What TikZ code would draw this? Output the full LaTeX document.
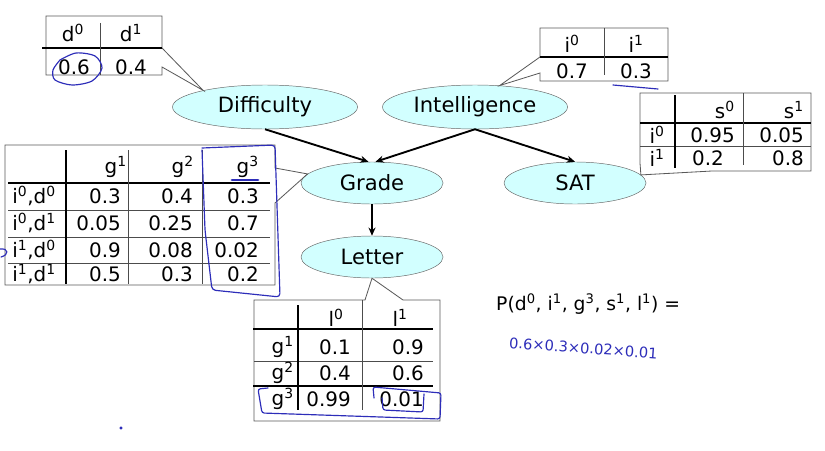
\documentclass[tikz,border=0pt]{standalone}
\usepackage{fontspec}
\setmainfont{DejaVu Sans}
\usetikzlibrary{arrows.meta, shapes.geometric}

\definecolor{nodefill}{RGB}{210,255,255}
\definecolor{ink}{RGB}{45,45,185}
\newcommand{\sv}[2]{#1\textsuperscript{#2}}

\begin{document}
\begin{tikzpicture}[>={Stealth[length=7pt,width=6pt]}, x=0.03cm, y=-0.03cm,
		var/.style={draw=gray!80!black, fill=nodefill, ellipse, inner sep=0pt, minimum width=4.26cm, minimum height=1.26cm, font=\fontsize{18}{21}\selectfont},
		edge/.style={->, line width=1.6pt},
		cell/.style={draw=black!65, line width=0.7pt},
		rule/.style={black!70, line width=0.8pt},
		thickrule/.style={black, line width=2.2pt},
		txt/.style={inner sep=0pt, font=\fontsize{17}{20}\selectfont},
		ink/.style={draw=ink, line width=1pt, line cap=round, line join=round}]
		\useasboundingbox (0,0) rectangle (825,450);

		% network
		\node[var, minimum width=5.55cm, minimum height=1.32cm] (diff) at (265,107) {Difficulty};
		\node[var, minimum width=5.55cm, minimum height=1.32cm] (intel) at (475,107) {Intelligence};
		\node[var] (grade) at (372,183) {Grade};
		\node[var] (sat) at (575,183) {SAT};
		\node[var] (letter) at (372,257) {Letter};
		\draw[edge] (diff.south) -- ([xshift=-3pt]grade.north);
		\draw[edge] (intel.south) -- ([xshift=3pt]grade.north);
		\draw[edge] (intel.south) -- (sat.north);
		\draw[edge] (grade) -- (letter);

		% difficulty table
		\draw[cell] (162,48) -- (diff.165) -- (162,67) -- (162,75) -- (46,75) -- (46,16) -- (162,16) -- cycle;
		\draw[thickrule] (42,48) -- (162,48);
		\draw[rule] (100,23) -- (100,75);
		\node[txt] (d0) at (73,33) {\sv{d}{0}};
		\node[txt] (d1) at (131,33) {\sv{d}{1}};
		\node[txt] (pd0) at (74,67) {0.6};
		\node[txt] (pd1) at (131,67) {0.4};

		% intelligence table
		\draw[cell] (540,57) -- (intel.41) -- (540,73) -- (540,81) -- (668,81) -- (668,28) -- (540,28) -- cycle;
		\draw[thickrule] (540,57) -- (668,57);
		\draw[rule] (604,28) -- (604,75);
		\node[txt] (i0) at (572,44) {\sv{i}{0}};
		\node[txt] (i1) at (636,44) {\sv{i}{1}};
		\node[txt] (pi0) at (572,71) {0.7};
		\node[txt] (pi1) at (636,71) {0.3};

		% sat table
		\draw[cell] (640,163) -- (sat.7) -- (712,171) -- (811,171) -- (811,93) -- (640,93) -- cycle;
		\draw[thickrule] (640,123) -- (811,123);
		\draw[rule] (640,146) -- (811,146);
		\draw[thickrule] (675,95) -- (675,168);
		\draw[rule] (743,93) -- (743,165);
		\node[txt, anchor=east] (s0) at (735,110) {\sv{s}{0}};
		\node[txt, anchor=east] (s1) at (804,110) {\sv{s}{1}};
		\node[txt] (si0) at (657,135) {\sv{i}{0}};
		\node[txt] (si1) at (657,158) {\sv{i}{1}};
		\node[txt, anchor=east] (ps00) at (735,135) {0.95};
		\node[txt, anchor=east] (ps01) at (804,135) {0.05};
		\node[txt, anchor=east] (ps10) at (724,158) {0.2};
		\node[txt, anchor=east] (ps11) at (804,158) {0.8};

		% grade table
		\draw[cell] (275,168) -- (grade.172) -- (275,203) -- (275,285) -- (5,285) -- (5,145) -- (275,145) -- cycle;
		\draw[thickrule] (8,183) -- (270,183);
		\foreach \y in {210,237,263}
			\draw[rule] (8,\y) -- (270,\y);
		\draw[thickrule] (66,150) -- (66,284);
		\draw[rule] (128,150) -- (128,284);
		\draw[rule] (202,150) -- (202,284);
		\node[txt, anchor=east] (g1) at (127,167) {\sv{g}{1}};
		\node[txt, anchor=east] (g2) at (194,167) {\sv{g}{2}};
		\node[txt, anchor=east] (g3) at (259,167) {\sv{g}{3}};
		\foreach \y/\lab/\pa/\pb/\pc [count=\r] in {
				196/{\sv{i}{0},\sv{d}{0}}/0.3/0.4/0.3,
				223/{\sv{i}{0},\sv{d}{1}}/0.05/0.25/0.7,
				250/{\sv{i}{1},\sv{d}{0}}/0.9/0.08/0.02,
				274/{\sv{i}{1},\sv{d}{1}}/0.5/0.3/0.2} {
			\node[txt] (gl\r) at (34,\y) {\lab};
			\node[txt, anchor=east] (ga\r) at (121,\y) {\pa};
			\node[txt, anchor=east] (gb\r) at (193,\y) {\pb};
			\node[txt, anchor=east] (gc\r) at (259,\y) {\pc};
		}

		% letter table
		\draw[cell] (365,300) -- (letter.south) -- (403,300) -- (440,300) -- (440,421) -- (254,421) -- (254,300) -- cycle;
		\draw[thickrule] (253,329) -- (433,329);
		\draw[rule] (254,361) -- (433,361);
		\draw[thickrule] (253,386) -- (433,386);
		\draw[thickrule] (298,305) -- (298,410);
		\draw[rule] (362,300) -- (362,410);
		\node[txt] (l0) at (336,318) {\sv{l}{0}};
		\node[txt] (l1) at (400,318) {\sv{l}{1}};
		\foreach \y/\g/\pa/\pb [count=\r] in {347/1/0.1/0.9, 373/2/0.4/0.6, 399/3/0.99/0.01} {
			\node[txt, anchor=east] (lg\r) at (294,\y) {\sv{g}{\g}};
			\node[txt, anchor=east] (la\r) at (351,\y) {\pa};
			\node[txt, anchor=east] (lb\r) at (424,\y) {\pb};
		}

		% joint probability
		\node[txt, anchor=west, font=\fontsize{16}{19}\selectfont] (joint) at (496,304) {P(\sv{d}{0}, \sv{i}{1}, \sv{g}{3}, \sv{s}{1}, \sv{l}{1}) =};
		\node[anchor=west, inner sep=0pt, text=ink, rotate=-4, font=\fontsize{12.5}{15}\selectfont] (prod) at (509,343) {0.6×0.3×0.02×0.01};

		% pen marks
		\draw[ink] plot[smooth] coordinates {(60,60) (76,53) (95,56) (102,68) (92,81) (72,85) (55,80) (53,70) (60,60)};
		\draw[ink] (613,85) -- (658,89);
		\draw[ink, rounded corners=3pt] (202,148) -- (275,145) -- (280,297) -- (212,290) -- (205,230) -- (202,150);
		\draw[ink, line width=2.4pt] (232,180) -- (258,180);
		\draw[ink] (0,249) .. controls (9,248) and (9,255) .. (1,257);
		\draw[ink, rounded corners=2pt] (268,388) -- (258,389) -- (262,413) -- (440,419) -- (441,393) -- (373,387) -- (374,398);
		\draw[ink, rounded corners=2pt] (382,398) -- (383,410) -- (423,412) -- (424,394);
		\fill[ink] (121,428) circle (0.8pt);
	\end{tikzpicture}
\end{document}
